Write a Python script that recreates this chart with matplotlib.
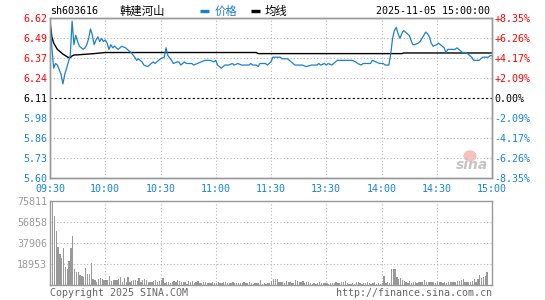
import matplotlib
matplotlib.use('Agg')
import matplotlib.pyplot as plt
from matplotlib.lines import Line2D
from matplotlib.patches import Ellipse
import numpy as np

plt.rcParams['font.family'] = ['DejaVu Sans Mono', 'Noto Sans CJK SC']

code = 'sh603616'
name = '韩建河山'
stamp = '2025-11-05 15:00:00'

# minutes since 09:30 (lunch break removed), price
price_t = [0, 1, 2, 3, 4, 5, 6, 7, 8, 9, 10, 11, 12, 13, 14, 15, 16, 17, 18, 19,
           20, 21, 22, 23, 24, 25, 26, 27, 28, 29, 30, 31, 32, 33, 34, 35, 36, 37, 38, 39,
           41, 42, 44, 46, 47, 48, 50, 51, 53, 54, 56, 57, 59, 60, 62, 63, 64, 66, 67, 69,
           70, 71, 73, 74, 77, 78, 80, 82, 84, 87, 89, 90, 91, 93, 94, 95, 97, 99, 100, 102,
           104, 108, 109, 110, 112, 113, 114, 117, 118, 119, 120, 121, 125, 126, 129, 131,
           133, 135, 137, 139, 142, 145, 146, 147, 149, 150, 151, 153, 154, 155, 156, 162,
           164, 166, 167, 169, 170, 174, 175, 177, 179, 181, 182, 184, 185, 186, 187, 188,
           189, 190, 191, 192, 193, 194, 195, 196, 197, 198, 200, 201, 202, 203, 204, 205,
           206, 207, 208, 210, 211, 212, 214, 215, 216, 217, 220, 221, 222, 224, 226, 228,
           229, 230, 233, 234, 235, 238, 239, 240]
price_v = [6.58, 6.43, 6.30, 6.33, 6.32, 6.29, 6.26, 6.20, 6.26, 6.30, 6.34, 6.38, 6.60, 6.45, 6.51, 6.47, 6.44, 6.43, 6.42, 6.43,
           6.45, 6.49, 6.55, 6.51, 6.45, 6.48, 6.50, 6.47, 6.49, 6.47, 6.48, 6.46, 6.42, 6.45, 6.43, 6.44, 6.43, 6.42, 6.43, 6.44,
           6.43, 6.42, 6.40, 6.37, 6.35, 6.36, 6.34, 6.32, 6.31, 6.32, 6.34, 6.33, 6.35, 6.36, 6.37, 6.43, 6.38, 6.35, 6.33, 6.34,
           6.34, 6.32, 6.34, 6.33, 6.33, 6.32, 6.33, 6.34, 6.35, 6.35, 6.34, 6.35, 6.32, 6.30, 6.31, 6.32, 6.32, 6.33, 6.32, 6.33,
           6.32, 6.32, 6.33, 6.32, 6.32, 6.31, 6.33, 6.33, 6.32, 6.33, 6.34, 6.37, 6.37, 6.36, 6.36, 6.34,
           6.32, 6.32, 6.32, 6.31, 6.32, 6.32, 6.33, 6.32, 6.33, 6.32, 6.33, 6.32, 6.33, 6.34, 6.35, 6.35,
           6.35, 6.34, 6.33, 6.32, 6.33, 6.33, 6.35, 6.34, 6.33, 6.33, 6.32, 6.32, 6.39, 6.49, 6.54, 6.56,
           6.52, 6.49, 6.52, 6.54, 6.53, 6.52, 6.51, 6.48, 6.45, 6.45, 6.46, 6.47, 6.49, 6.51, 6.53, 6.52,
           6.50, 6.46, 6.44, 6.45, 6.46, 6.45, 6.43, 6.40, 6.42, 6.42, 6.42, 6.43, 6.42, 6.40, 6.40, 6.38,
           6.37, 6.35, 6.35, 6.36, 6.37, 6.37, 6.38, 6.38]

avg_t = [0, 1, 2, 3, 4, 5, 7, 9, 10, 11, 12, 13, 16, 24, 30, 112, 113, 191, 192, 240]
avg_v = [6.60, 6.50, 6.46, 6.44, 6.42, 6.41, 6.39, 6.375, 6.368, 6.368, 6.378, 6.384, 6.386, 6.393, 6.40,
         6.40, 6.393, 6.393, 6.397, 6.397]

# volume per minute
volume = [56000, 75811, 62000, 48700, 34000, 28000, 24000, 33700, 16000, 14000, 21700, 33000, 44000,
          14000, 12000, 12000, 9000, 7800, 7000, 15000, 10000, 10000, 20000, 5700, 4800, 3000,
          5700, 6600, 5700, 4200, 4800, 4800, 8000, 3600, 4200, 4800, 4200, 5100, 7200, 3000, 6600,
          3000, 7500, 3000, 3600, 4200, 4200, 3600, 6600, 3000, 4200, 5100, 4800, 2400, 3000, 3000,
          3600, 4200, 3000, 3600, 4800, 6000, 2100, 2400, 2400, 1800, 2400, 3600, 3000, 4200, 3600,
          2400, 3000, 2400, 1200, 3600, 2700, 3300, 2100, 3000,
          3600, 2000, 1800, 2400, 2400, 1500, 1800, 2000, 3000, 2100, 1800, 2400, 2100, 1800, 3000,
          2400, 2100, 1800, 2100, 2400, 1800, 2100, 1800, 1500, 1800, 2400, 1800, 1500, 2700, 1800,
          1200, 1800, 1800, 1500, 4800, 1200, 1500, 1200, 1800, 2100, 3600,
          5100, 5700, 5700, 3000, 2400, 3000, 2100, 3600, 2400, 3000, 2100, 2100, 4200, 3600, 3000,
          2400, 3600, 2100, 3000, 2400, 1800, 1200, 1500, 1200, 1800, 2700, 1500, 2100, 1500, 1800,
          1200, 1500, 2100, 1800, 2700, 1500, 2100, 3000, 2400, 3600,
          1800, 1200, 1200, 1500, 1200, 3000, 3000, 1800, 1200, 2100, 2100, 3000, 1800, 1200, 2100,
          3000, 1200, 1500, 1200, 1500, 8000, 1800, 2400, 2100, 14000, 14000, 14000, 7500, 5100, 6600,
          4200, 3600, 2700, 1800, 3600, 1800, 2400, 3000, 2100, 2700, 2400, 3000, 4800, 2400, 3000,
          2400, 3000, 2400, 1800, 2400, 2700, 2700, 2100, 2400, 2100, 2700, 2400, 3000, 2700, 2400,
          3300, 3600, 4500, 5100, 2400, 2700, 3000, 2400, 3600, 5700, 3000, 5100, 9000, 6600, 7200,
          7800, 12000]

time_labels = ['09:30', '10:00', '10:30', '11:00', '11:30', '13:30', '14:00', '14:30', '15:00']
price_labels = ['5.60', '5.73', '5.86', '5.98', '6.11', '6.24', '6.37', '6.49', '6.62']
pct_labels = ['-8.35%', '-6.26%', '-4.17%', '-2.09%', '0.00%', '+2.09%', '+4.17%', '+6.26%', '+8.35%']
vol_labels = ['18953', '37906', '56858', '75811']

BLUE = '#1a80d2'
LBLUE = '#1682d8'
RED = '#ff0000'
GREY = '#999999'
GRID = '#b4b4b4'
FS = 7.2

W, H = 545, 300
fig = plt.figure(figsize=(W / 100, H / 100), dpi=100)

def fx(px):
    return px / W

def fy(py):
    return 1 - py / H

ax = fig.add_axes([fx(50), fy(178), fx(442), 160 / H])
axv = fig.add_axes([fx(50), fy(285), fx(442), 84 / H])

ymin, ymax = 5.60, 6.62
yticks = np.linspace(ymin, ymax, len(price_labels))
xticks = np.linspace(0, 240, len(time_labels))
tick_cols = [LBLUE] * 4 + ['black'] + [RED] * 4

# price panel
for x in xticks[1:-1]:
    ax.axvline(x, color=GRID, lw=0.8, ls=(0, (1, 2)), zorder=1)
for i, y in enumerate(yticks[1:-1], start=1):
    if i == 4:
        ax.axhline(y, color='black', lw=0.8, ls=(0, (2, 2)), zorder=1)
    else:
        ax.axhline(y, color=GRID, lw=0.8, ls=(0, (1, 2)), zorder=1)

ax.plot(price_t, price_v, color=BLUE, lw=0.9, zorder=3)
ax.plot(avg_t, avg_v, color='black', lw=1.0, zorder=2)
ax.set_xlim(0, 240)
ax.set_ylim(ymin, ymax)
ax.set_xticks(xticks)
ax.set_xticklabels(time_labels, fontsize=FS, color=LBLUE)
ax.set_yticks(yticks)
ax.set_yticklabels(price_labels, fontsize=FS)
for lab, c in zip(ax.get_yticklabels(), tick_cols):
    lab.set_color(c)
ax.tick_params(axis='x', length=0, pad=4.5)
ax.tick_params(axis='y', length=0, pad=2.2)

ax2 = ax.twinx()
ax2.set_ylim(ymin, ymax)
ax2.set_yticks(yticks)
ax2.set_yticklabels(pct_labels, fontsize=FS)
for lab, c in zip(ax2.get_yticklabels(), tick_cols):
    lab.set_color(c)
ax2.tick_params(axis='y', length=0, pad=1.5)

for a in (ax, ax2, axv):
    for s in a.spines.values():
        s.set_color(GREY)
        s.set_linewidth(1.0)

# volume panel
vmax = 75811
vticks = np.linspace(0, vmax, 5)[1:]
for x in xticks[1:-1]:
    axv.axvline(x, color=GRID, lw=0.8, ls=(0, (1, 2)), zorder=1)
for y in vticks[:-1]:
    axv.axhline(y, color=GRID, lw=0.8, ls=(0, (1, 2)), zorder=1)
axv.bar(np.arange(len(volume)), volume, width=0.72, align='edge', color=GREY, zorder=2)
axv.set_xlim(0, 240)
axv.set_ylim(0, vmax)
axv.set_xticks([])
axv.set_yticks(vticks)
axv.set_yticklabels(vol_labels, fontsize=FS, color=GREY)
axv.tick_params(axis='y', length=0, pad=2.2)

# header
fig.text(fx(50), fy(11), code, fontsize=FS, color='black', ha='left', va='center')
fig.text(fx(120), fy(11), name, fontsize=8.2, color='black', ha='left', va='center',
         family=['Noto Sans CJK SC', 'DejaVu Sans'])
fig.lines.append(Line2D([fx(200), fx(209)], [fy(11), fy(11)], transform=fig.transFigure,
                        color=BLUE, lw=2.4, solid_capstyle='butt'))
fig.text(fx(215), fy(11), '价格', fontsize=8.2, color=BLUE, ha='left', va='center',
         family=['Noto Sans CJK SC', 'DejaVu Sans'])
fig.lines.append(Line2D([fx(251), fx(260)], [fy(11), fy(11)], transform=fig.transFigure,
                        color='black', lw=2.4, solid_capstyle='butt'))
fig.text(fx(265), fy(11), '均线', fontsize=8.2, color='black', ha='left', va='center',
         family=['Noto Sans CJK SC', 'DejaVu Sans'])
fig.text(fx(490), fy(11), stamp, fontsize=FS, color='black', ha='right', va='center')

# footer
fig.text(fx(50), fy(293), 'Copyright 2025 SINA.COM', fontsize=FS, color='#666666', ha='left', va='center')
fig.text(fx(492), fy(293), 'http://finance.sina.com.cn', fontsize=FS, color='#666666', ha='right', va='center')

# watermark
fig.patches.append(Ellipse((fx(470), fy(156)), fx(12), 10 / H, transform=fig.transFigure,
                           color='#f4c0c0', zorder=0))
fig.text(fx(472), fy(165), 'sina', fontsize=10, color='#c4c4c4', ha='center', va='center',
         style='italic', weight='bold', family='DejaVu Sans')

fig.savefig('out.png', dpi=100, facecolor='white')
